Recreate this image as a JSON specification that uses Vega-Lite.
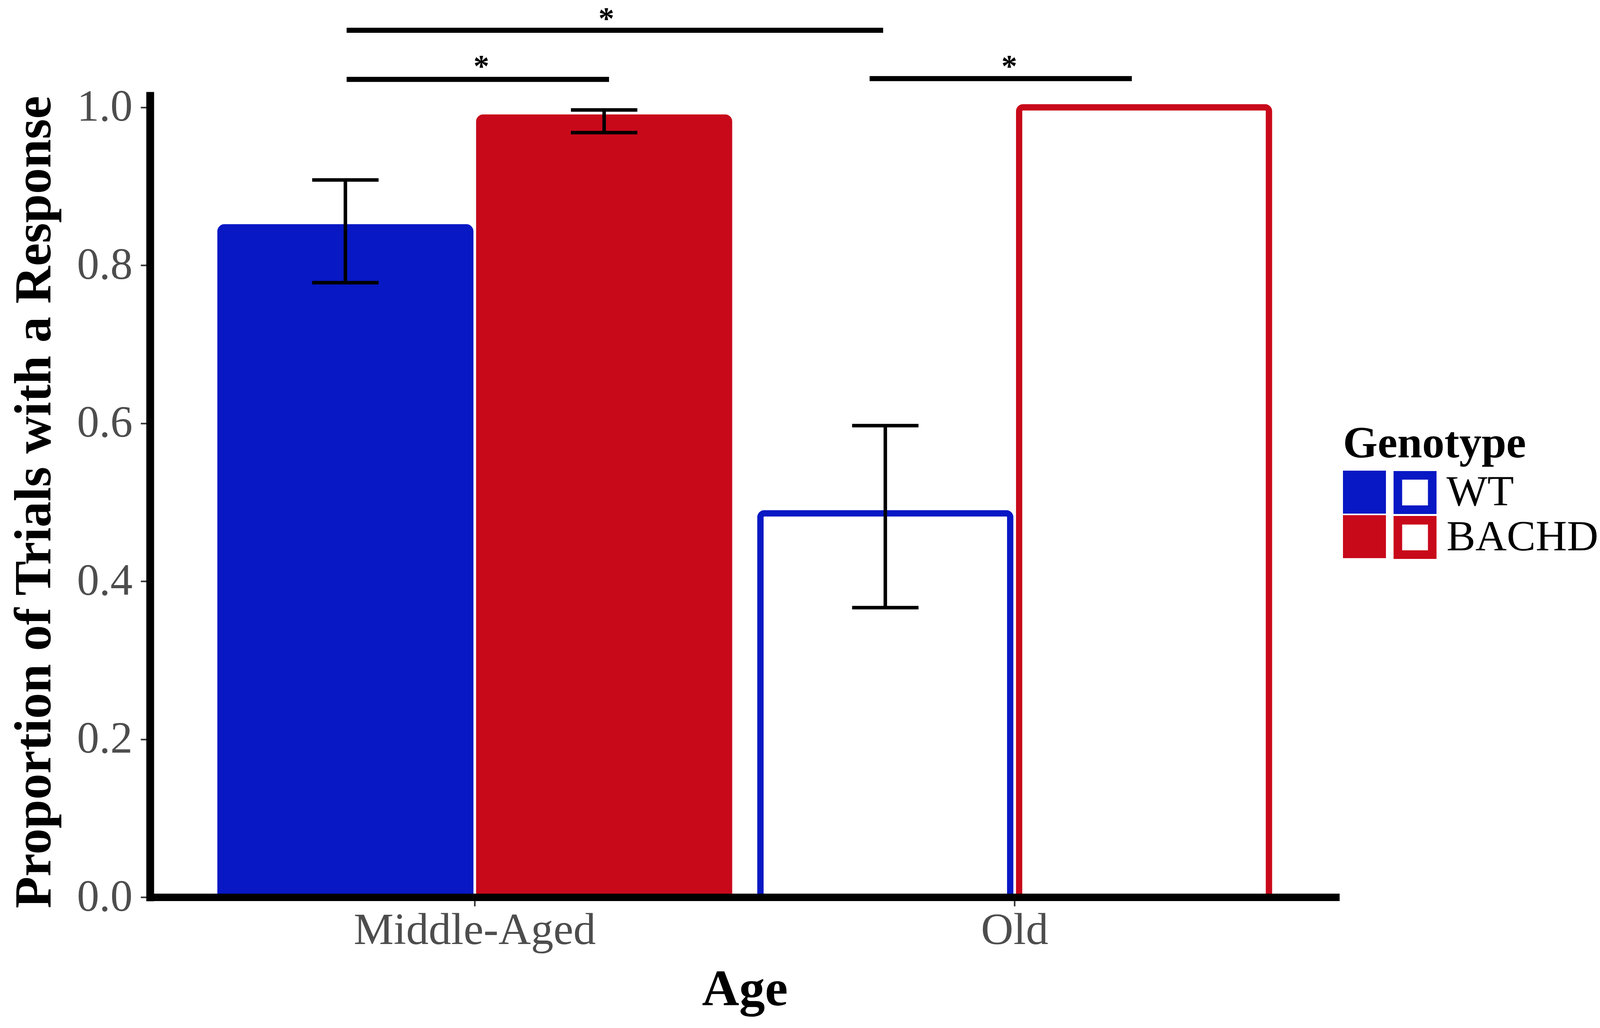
{
  "$schema": "https://vega.github.io/schema/vega-lite/v6.json",
  "width": 3045,
  "height": 2052,
  "autosize": {"type": "none"},
  "padding": {"left": 384, "top": 245, "right": 703, "bottom": 335},
  "background": "white",
  "config": {"view": {"stroke": null}, "font": "Liberation Serif"},
  "datasets": {
    "bars": [
      {"Age": "Middle-Aged", "Genotype": "WT", "value": 0.848, "lo": 0.778, "hi": 0.908},
      {"Age": "Middle-Aged", "Genotype": "BACHD", "value": 0.987, "lo": 0.968, "hi": 0.9966},
      {"Age": "Old", "Genotype": "WT", "value": 0.486, "lo": 0.3665, "hi": 0.597},
      {"Age": "Old", "Genotype": "BACHD", "value": 1.0, "lo": null, "hi": null}
    ],
    "sig": [
      {"start": 0.7637, "end": 1.756, "y": 1.0975, "star_x": 1.244, "star_y": 1.0995, "label": "*"},
      {"start": 0.7637, "end": 1.249, "y": 1.0353, "star_x": 1.0128, "star_y": 1.0387, "label": "*"},
      {"start": 1.731, "end": 2.216, "y": 1.0363, "star_x": 1.9894, "star_y": 1.0387, "label": "*"}
    ]
  },
  "layer": [
    {
      "data": {"name": "bars"},
      "layer": [
        {
          "transform": [{"filter": "datum.Age == 'Middle-Aged'"}],
          "mark": {"type": "bar", "strokeWidth": 16, "cornerRadius": 10},
          "encoding": {
            "x": {
              "field": "Age", "type": "nominal",
              "scale": {"domain": ["Middle-Aged", "Old"], "paddingInner": 0.058, "paddingOuter": 0.1305},
              "axis": {
                "title": "Age", "titleFont": "Liberation Serif", "titleFontSize": 132, "titleFontWeight": "bold",
                "titleColor": "black", "titleBaseline": "alphabetic", "titleY": 276,
                "labelFont": "Liberation Serif", "labelFontSize": 115, "labelColor": "#4d4d4d", "labelPadding": 5,
                "labelAngle": 0, "labelLimit": 2000, "tickSize": 23, "tickWidth": 4, "tickColor": "#333333",
                "domainColor": "black", "domainWidth": 19, "zindex": 1, "grid": false
              }
            },
            "xOffset": {"field": "Genotype", "type": "nominal", "scale": {"domain": ["WT", "BACHD"], "paddingInner": 0.0344, "paddingOuter": 0}},
            "y": {
              "field": "value", "type": "quantitative",
              "scale": {"domain": [0, 1.0147], "nice": false, "zero": true},
              "axis": {
                "title": "Proportion of Trials with a Response", "values": [0, 0.2, 0.4, 0.6, 0.8, 1.0], "format": ".1f",
                "titleFont": "Liberation Serif", "titleFontSize": 133, "titleFontWeight": "bold", "titleColor": "black",
                "titleAngle": 270, "titleBaseline": "alphabetic", "titleAlign": "center", "titleX": -256, "titleY": 1040, "titleLimit": 5000,
                "labelFont": "Liberation Serif", "labelFontSize": 114, "labelColor": "#4d4d4d", "labelPadding": 21,
                "tickSize": 24, "tickWidth": 4, "tickColor": "#333333",
                "domainColor": "black", "domainWidth": 20, "domainCap": "square", "zindex": 1, "grid": false
              }
            },
            "fill": {
              "field": "Genotype", "type": "nominal", "sort": ["WT", "BACHD"],
              "scale": {"range": ["#0718c4", "#c8091a"]},
              "legend": {
                "title": "Genotype", "orient": "none", "legendX": 3054, "legendY": 836, "padding": 0,
                "titleFont": "Liberation Serif", "titleFontSize": 114, "titleFontWeight": "bold", "titleColor": "black",
                "titleLimit": 2000, "titlePadding": 10, "symbolType": "square", "symbolSize": 12100, "symbolStrokeWidth": 0, "symbolOpacity": 1,
                "labelExpr": "''", "labelFontSize": 1, "labelOffset": 0, "rowPadding": 4, "clipHeight": 110
              }
            },
            "stroke": {
              "field": "Genotype", "type": "nominal",
              "scale": {"domain": ["WT", "BACHD"], "range": ["#0718c4", "#c8091a"]},
              "legend": {
                "title": null, "orient": "none", "legendX": 3183, "legendY": 961, "padding": 0,
                "symbolType": "square", "symbolSize": 7744, "symbolStrokeWidth": 22, "symbolFillColor": "white", "symbolOpacity": 1,
                "labelFont": "Liberation Serif", "labelFontSize": 111, "labelColor": "black", "labelOffset": 25, "labelLimit": 2000,
                "rowPadding": 4, "clipHeight": 110
              }
            }
          }
        },
        {
          "transform": [{"filter": "datum.Age == 'Old'"}],
          "mark": {"type": "bar", "fill": "white", "strokeWidth": 16, "cornerRadius": 10},
          "encoding": {
            "x": {"field": "Age", "type": "nominal", "scale": {"domain": ["Middle-Aged", "Old"], "paddingInner": 0.058, "paddingOuter": 0.1305}},
            "xOffset": {"field": "Genotype", "type": "nominal", "scale": {"domain": ["WT", "BACHD"], "paddingInner": 0.0344, "paddingOuter": 0}},
            "y": {"field": "value", "type": "quantitative", "scale": {"domain": [0, 1.0147], "nice": false, "zero": true}},
            "stroke": {
              "field": "Genotype", "type": "nominal",
              "scale": {"domain": ["WT", "BACHD"], "range": ["#0718c4", "#c8091a"]},
              "legend": {
                "title": null, "orient": "none", "legendX": 3183, "legendY": 961, "padding": 0,
                "symbolType": "square", "symbolSize": 7744, "symbolStrokeWidth": 22, "symbolFillColor": "white", "symbolOpacity": 1,
                "labelFont": "Liberation Serif", "labelFontSize": 111, "labelColor": "black", "labelOffset": 25, "labelLimit": 2000,
                "rowPadding": 4, "clipHeight": 110
              }
            }
          }
        },
        {
          "transform": [{"filter": "datum.lo != null"}],
          "mark": {"type": "rule", "color": "black", "strokeWidth": 9},
          "encoding": {
            "x": {"field": "Age", "type": "nominal", "scale": {"domain": ["Middle-Aged", "Old"], "paddingInner": 0.058, "paddingOuter": 0.1305}},
            "xOffset": {"field": "Genotype", "type": "nominal", "scale": {"domain": ["WT", "BACHD"], "paddingInner": 0.0344, "paddingOuter": 0}},
            "y": {"field": "lo", "type": "quantitative", "scale": {"domain": [0, 1.0147], "nice": false, "zero": true}},
            "y2": {"field": "hi"}
          }
        },
        {
          "transform": [{"filter": "datum.lo != null"}],
          "mark": {"type": "tick", "orient": "horizontal", "color": "black", "size": 170, "thickness": 9, "opacity": 1},
          "encoding": {
            "x": {"field": "Age", "type": "nominal", "scale": {"domain": ["Middle-Aged", "Old"], "paddingInner": 0.058, "paddingOuter": 0.1305}},
            "xOffset": {"field": "Genotype", "type": "nominal", "scale": {"domain": ["WT", "BACHD"], "paddingInner": 0.0344, "paddingOuter": 0}},
            "y": {"field": "hi", "type": "quantitative", "scale": {"domain": [0, 1.0147], "nice": false, "zero": true}}
          }
        },
        {
          "transform": [{"filter": "datum.lo != null"}],
          "mark": {"type": "tick", "orient": "horizontal", "color": "black", "size": 170, "thickness": 9, "opacity": 1},
          "encoding": {
            "x": {"field": "Age", "type": "nominal", "scale": {"domain": ["Middle-Aged", "Old"], "paddingInner": 0.058, "paddingOuter": 0.1305}},
            "xOffset": {"field": "Genotype", "type": "nominal", "scale": {"domain": ["WT", "BACHD"], "paddingInner": 0.0344, "paddingOuter": 0}},
            "y": {"field": "lo", "type": "quantitative", "scale": {"domain": [0, 1.0147], "nice": false, "zero": true}}
          }
        }
      ]
    },
    {
      "data": {"name": "sig"},
      "layer": [
        {
          "mark": {"type": "rule", "color": "black", "strokeWidth": 13},
          "encoding": {
            "x": {"field": "start", "type": "quantitative", "scale": {"domain": [0.4, 2.6], "nice": false, "zero": false}, "axis": null},
            "x2": {"field": "end"},
            "y": {"field": "y", "type": "quantitative", "scale": {"domain": [0, 1.0147], "nice": false, "zero": true}}
          }
        },
        {
          "mark": {"type": "text", "color": "black", "font": "Liberation Serif", "fontSize": 81, "fontWeight": "bold", "baseline": "alphabetic", "align": "center"},
          "encoding": {
            "x": {"field": "star_x", "type": "quantitative", "scale": {"domain": [0.4, 2.6], "nice": false, "zero": false}, "axis": null},
            "y": {"field": "star_y", "type": "quantitative", "scale": {"domain": [0, 1.0147], "nice": false, "zero": true}},
            "text": {"field": "label"}
          }
        }
      ]
    }
  ],
  "resolve": {"scale": {"x": "independent"}}
}
